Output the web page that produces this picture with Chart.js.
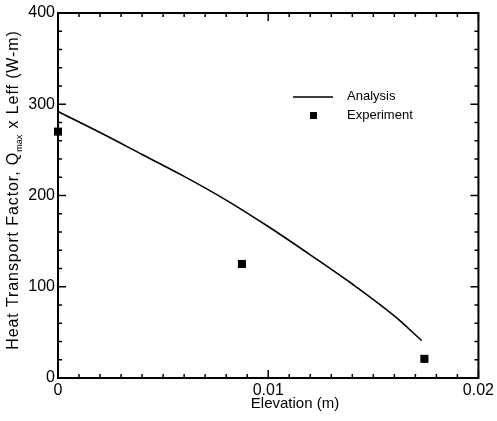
<!DOCTYPE html>
<html>
<head>
<meta charset="utf-8">
<script src="https://cdn.jsdelivr.net/npm/chart.js@4.4.1/dist/chart.umd.min.js"></script>
<style>
  html, body { margin: 0; padding: 0; background: #fff; }
  #wrap { width: 497px; height: 421px; position: relative; }
</style>
</head>
<body>
<div id="wrap"><canvas id="myChart" width="497" height="421"></canvas></div>
<script>
// Analysis curve
const analysisX = [0, 0.002, 0.004, 0.006, 0.008, 0.010, 0.012, 0.014, 0.016, 0.0173];
const analysisY = [292, 269, 245, 221, 195, 166, 135, 103, 68, 41];

// Experiment points
const expX = [0, 0.00875, 0.01743];
const expY = [270, 125, 21];

// Axis ticks
const xTicks = [0, 0.01, 0.02];
const xTickLabels = ['0', '0.01', '0.02'];
const yTicks = [0, 100, 200, 300, 400];
const yTickLabels = ['0', '100', '200', '300', '400'];

const FONT = '"Liberation Sans", Arial, Helvetica, sans-serif';

const toPoints = (xs, ys) => xs.map((x, i) => ({ x: x, y: ys[i] }));

// frame, inward ticks, axis titles and legend
const decor = {
  id: 'decor',
  afterDraw(chart) {
    const c = chart.ctx;
    const a = chart.chartArea;
    const xs = chart.scales.x, ys = chart.scales.y;
    c.save();
    c.strokeStyle = '#000';

    // ticks
    c.lineWidth = 1.5;
    c.beginPath();
    for (let i = 0; i <= 20; i++) {
      const px = xs.getPixelForValue(i * 0.001);
      const len = (i % 10 === 0) ? 8 : 4;
      c.moveTo(px, a.bottom); c.lineTo(px, a.bottom - len);
      c.moveTo(px, a.top); c.lineTo(px, a.top + len);
    }
    for (let i = 0; i <= 20; i++) {
      const py = ys.getPixelForValue(i * 20);
      const len = (i % 5 === 0) ? 8 : 4;
      c.moveTo(a.left, py); c.lineTo(a.left + len, py);
      c.moveTo(a.right, py); c.lineTo(a.right - len, py);
    }
    c.stroke();

    // frame
    c.lineWidth = 2;
    c.strokeRect(a.left, a.top, a.right - a.left, a.bottom - a.top);

    // x title
    c.fillStyle = '#000';
    c.font = '15px ' + FONT;
    c.textAlign = 'center';
    c.textBaseline = 'middle';
    c.fillText('Elevation (m)', 295, 404);

    // y title with subscript
    c.translate(14, 190);
    c.rotate(-Math.PI / 2);
    c.textAlign = 'left';
    const p1 = 'Heat Transport Factor, Q';
    const sub = 'max';
    const p2 = ' x Leff (W-m)';
    c.letterSpacing = '0.9px';
    c.font = '16px ' + FONT;
    const w1 = c.measureText(p1).width;
    const w2 = c.measureText(p2).width;
    c.letterSpacing = '0px';
    c.font = '9px ' + FONT;
    const ws = c.measureText(sub).width + 1;
    const x0 = -(w1 + ws + w2) / 2;
    c.fillText(sub, x0 + w1, 6);
    c.letterSpacing = '0.9px';
    c.font = '16px ' + FONT;
    c.fillText(p1, x0, 0);
    c.fillText(p2, x0 + w1 + ws, 0);
    c.restore();

    // legend
    c.save();
    c.strokeStyle = '#000';
    c.fillStyle = '#000';
    c.lineWidth = 1.5;
    c.beginPath();
    c.moveTo(293, 97); c.lineTo(333, 97);
    c.stroke();
    c.fillRect(310, 112, 7, 7);
    c.font = '13px ' + FONT;
    c.textBaseline = 'middle';
    c.textAlign = 'left';
    c.fillText('Analysis', 347, 96);
    c.fillText('Experiment', 347, 115);
    c.restore();
  }
};

new Chart(document.getElementById('myChart'), {
  type: 'scatter',
  data: {
    datasets: [
      {
        label: 'Analysis',
        data: toPoints(analysisX, analysisY),
        showLine: true,
        borderColor: '#000',
        borderWidth: 1.6,
        pointRadius: 0,
        cubicInterpolationMode: 'monotone'
      },
      {
        label: 'Experiment',
        data: toPoints(expX, expY),
        pointStyle: 'rect',
        pointRadius: 5.7,
        backgroundColor: '#000',
        borderColor: '#000',
        borderWidth: 0,
        clip: false
      }
    ]
  },
  plugins: [decor],
  options: {
    responsive: false,
    animation: false,
    events: [],
    layout: { padding: { left: 0, top: 13, right: 14, bottom: 0 } },
    plugins: { legend: { display: false }, tooltip: { enabled: false } },
    scales: {
      x: {
        type: 'linear',
        min: 0,
        max: 0.02,
        afterBuildTicks: s => { s.ticks = xTicks.map(v => ({ value: v })); },
        afterFit: s => { s.height = 43; },
        grid: { display: false, drawTicks: false },
        border: { display: false },
        ticks: {
          color: '#000',
          padding: 3,
          maxRotation: 0,
          font: { family: FONT, size: 16 },
          callback: (v, i) => xTickLabels[i]
        }
      },
      y: {
        type: 'linear',
        min: 0,
        max: 400,
        afterBuildTicks: s => { s.ticks = yTicks.map(v => ({ value: v })); },
        afterFit: s => { s.width = 58; },
        grid: { display: false, drawTicks: false },
        border: { display: false },
        ticks: {
          color: '#000',
          padding: 3,
          font: { family: FONT, size: 16 },
          callback: (v, i) => yTickLabels[i]
        }
      }
    }
  }
});
</script>
</body>
</html>
